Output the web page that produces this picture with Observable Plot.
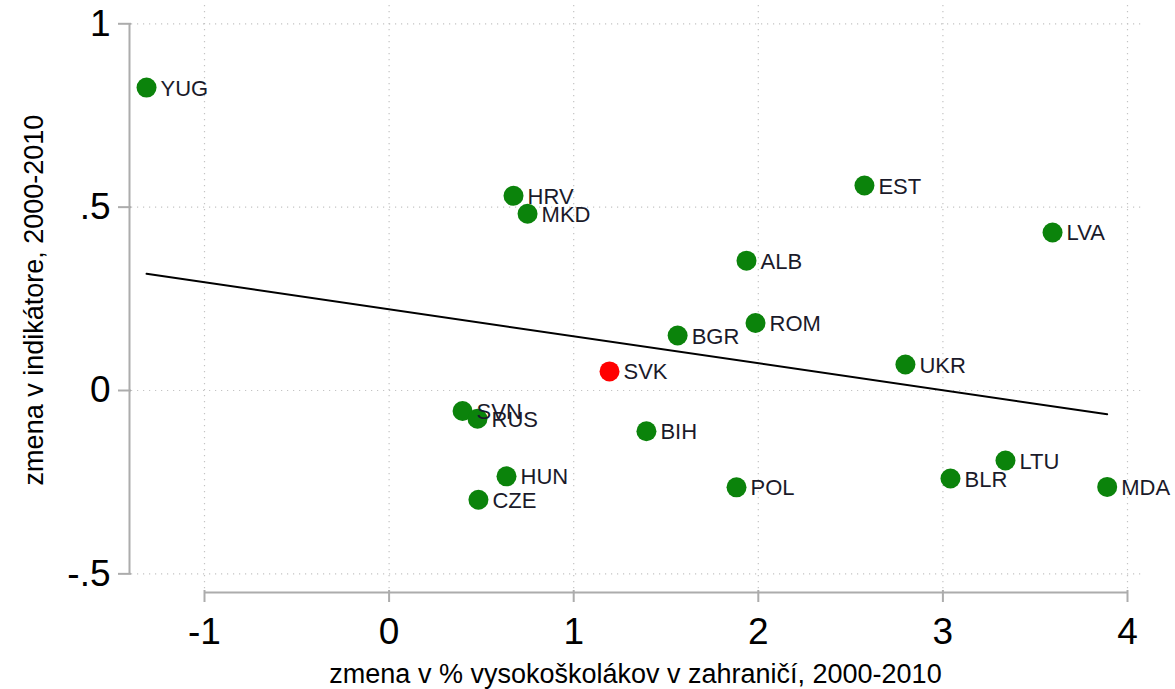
<!DOCTYPE html>
<html>
<head>
<meta charset="utf-8">
<script src="https://cdn.jsdelivr.net/npm/d3@7"></script>
<script src="https://cdn.jsdelivr.net/npm/@observablehq/plot@0.6"></script>
<style>
  html, body { margin: 0; padding: 0; background: #ffffff; }
  #chart svg { display: block; overflow: visible; }
</style>
</head>
<body>
<div id="chart"></div>
<script>
// ---- data ----
const countries = ["YUG","HRV","MKD","EST","LVA","ALB","ROM","BGR","UKR","SVK","SVN","RUS","BIH","HUN","CZE","POL","BLR","LTU","MDA"];
const changeAbroad = [-1.314, 0.674, 0.750, 2.575, 3.594, 1.936, 1.985, 1.563, 2.797, 1.194, 0.398, 0.479, 1.394, 0.636, 0.484, 1.882, 3.041, 3.339, 3.890];
const changeIndicator = [0.826, 0.531, 0.482, 0.559, 0.431, 0.354, 0.184, 0.150, 0.071, 0.052, -0.056, -0.077, -0.111, -0.234, -0.298, -0.264, -0.240, -0.191, -0.263];
const highlighted = ["SVK"];

const xTicks = [-1, 0, 1, 2, 3, 4];
const xTickLabels = ["-1", "0", "1", "2", "3", "4"];
const yTicks = [-0.5, 0, 0.5, 1];
const yTickLabels = ["-.5", "0", ".5", "1"];

const xTitle = "zmena v % vysokoškolákov v zahraničí, 2000-2010";
const yTitle = "zmena v indikátore, 2000-2010";

const data = countries.map((c, i) => ({country: c, x: changeAbroad[i], y: changeIndicator[i]}));
const others = data.filter(d => !highlighted.includes(d.country));
const focus = data.filter(d => highlighted.includes(d.country));

// ---- layout ----
const W = 1175, H = 689;
const frameLeft = 131, frameRight = 1145, frameTop = 5, frameBottom = 590;
const xPx0 = 388.6, xPxPerUnit = 184.6;   // pixel mapping of the reference
const yPx0 = 390, yPxPerUnit = 366.7;
const xDomain = [frameLeft, frameRight].map(p => (p - xPx0) / xPxPerUnit);
const yDomain = [frameBottom, frameTop].map(p => (yPx0 - p) / yPxPerUnit);

const font = "'Liberation Sans', Arial, Helvetica, sans-serif";
const green = "#0b830b";
const red = "#ff0000";
const axisGray = "#acacac";
const gridGray = "#c4c4c4";

const chart = Plot.plot({
  width: W,
  height: H,
  marginTop: frameTop, marginRight: W - frameRight, marginBottom: H - frameBottom, marginLeft: frameLeft,
  style: {fontFamily: font, background: "#ffffff", color: "#000", overflow: "visible"},
  x: {domain: xDomain, axis: null},
  y: {domain: yDomain, axis: null},
  marks: [
    Plot.gridY(yTicks, {stroke: gridGray, strokeOpacity: 1, strokeWidth: 1.2, strokeDasharray: "1.2,4.8"}),
    Plot.gridX(xTicks, {stroke: gridGray, strokeOpacity: 1, strokeWidth: 1.2, strokeDasharray: "1.2,4.8"}),
    // axis lines
    Plot.ruleX([xDomain[0]], {y1: yTicks[0], y2: yTicks[yTicks.length - 1], dx: -2, stroke: axisGray, strokeWidth: 2}),
    Plot.ruleY([yDomain[0]], {x1: xTicks[0], x2: xTicks[xTicks.length - 1], dy: 2, stroke: axisGray, strokeWidth: 2}),
    Plot.axisY(yTicks, {
      anchor: "left", tickSize: 13, tickPadding: 8, fontSize: 37,
      stroke: axisGray, strokeWidth: 2, fill: "#000", label: null,
      tickFormat: (d) => yTickLabels[yTicks.indexOf(d)]
    }),
    Plot.axisX(xTicks, {
      anchor: "bottom", tickSize: 12, tickPadding: 15, fontSize: 37,
      stroke: axisGray, strokeWidth: 2, fill: "#000", label: null,
      tickFormat: (d) => xTickLabels[xTicks.indexOf(d)]
    }),
    // axis titles
    Plot.text([yTitle], {frameAnchor: "left", textAnchor: "middle", lineAnchor: "middle", rotate: -90, dx: -97, dy: 2, fontSize: 27, fill: "#000", text: d => d}),
    Plot.text([xTitle], {frameAnchor: "bottom", textAnchor: "middle", lineAnchor: "middle", dx: -3, dy: 84, fontSize: 27, fill: "#000", text: d => d}),
    // points
    Plot.dot(others, {x: "x", y: "y", r: 10, fill: green, stroke: "none"}),
    Plot.dot(focus, {x: "x", y: "y", r: 10, fill: red, stroke: "none"}),
    // labels
    Plot.text(data, {x: "x", y: "y", text: "country", textAnchor: "start", dx: 14, dy: 1, fontSize: 22, fill: "#1a1a2a"}),
    // fitted line
    Plot.linearRegressionY(data, {x: "x", y: "y", stroke: "#000", strokeWidth: 2, ci: 0})
  ]
});
document.getElementById("chart").appendChild(chart);
</script>
</body>
</html>
